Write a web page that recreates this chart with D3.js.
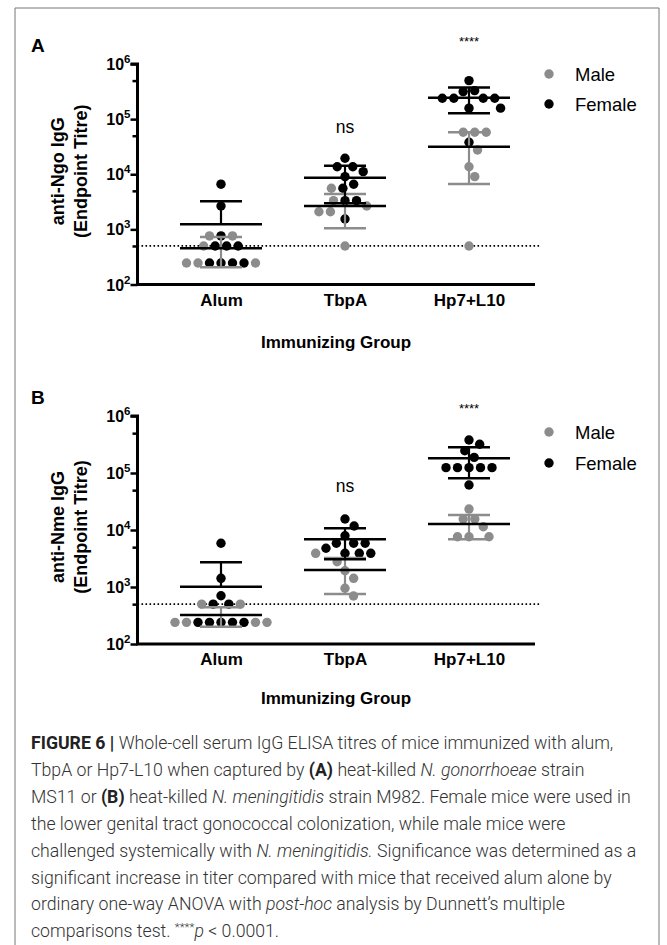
<!DOCTYPE html>
<html><head><meta charset="utf-8">
<script src="https://cdn.jsdelivr.net/npm/d3@7"></script>
<style>body{margin:0;background:#fff}svg{display:block}</style>
</head><body>
<script>
// ---------------- data ----------------
const groups = ["Alum", "TbpA", "Hp7+L10"];
const panelLabels = ["A", "B"];
const yTitles = [["anti-Ngo IgG", "(Endpoint Titre)"], ["anti-Nme IgG", "(Endpoint Titre)"]];
const xTitle = "Immunizing Group";
const sigLabels = ["", "ns", "****"];
const seriesNames = ["Male", "Female"];
const tickValues = [100, 1000, 10000, 100000, 1000000];
const minorTickValues = [500, 5000, 50000, 500000];
const limitOfDetection = 500;

// Panel A (anti-Ngo)
const aFemale = [
  [6600, 2660, 760, 500, 500, 500, 245, 245, 245, 245],
  [19500, 13700, 13700, 11150, 9040, 6590, 5570, 3320, 3320, 1545],
  [500000, 329000, 316000, 239000, 239000, 239000, 239000, 158000, 158000, 38100]
];
const aMale = [
  [760, 760, 500, 245, 245, 245],
  [5570, 3320, 2660, 2090, 2090, 500],
  [57800, 57800, 57800, 27600, 13700, 9040, 500]
];
const aFemaleMean = [1240, 8670, 245000];
const aFemaleSdHigh = [3240, 14300, 373000];
const aFemaleSdLow = [null, 2980, 128000];
const aMaleMean = [454, 2660, 31700];
const aMaleSdHigh = [728, 4390, 57800];
const aMaleSdLow = [205, 1047, 6670];

// Panel B (anti-Nme)
const bFemale = [
  [5850, 1420, 703, 500, 500, 240, 240, 240, 240, 240],
  [15600, 11750, 7940, 5850, 5850, 5850, 4780, 3900, 3900, 3900],
  [379000, 319000, 246000, 188000, 124000, 124000, 124000, 124000, 124000, 61500]
];
const bMale = [
  [500, 500, 240, 240, 240, 240],
  [3900, 2780, 1930, 1420, 950, 695],
  [23300, 15600, 15600, 11400, 7620, 7620, 7620]
];
const bFemaleMean = [1010, 6870, 181000];
const bFemaleSdHigh = [2710, 10720, 282000];
const bFemaleSdLow = [null, 3060, 80700];
const bMaleMean = [323, 1986, 12700];
const bMaleSdHigh = [440, 3220, 18300];
const bMaleSdLow = [201, 753, 6870];

const captionLines = [
  [["b","FIGURE 6 | "],["n","Whole-cell serum IgG ELISA titres of mice immunized with alum,"]],
  [["n","TbpA or Hp7-L10 when captured by "],["b","(A)"],["n"," heat-killed "],["i","N. gonorrhoeae"],["n"," strain"]],
  [["n","MS11 or "],["b","(B)"],["n"," heat-killed "],["i","N. meningitidis"],["n"," strain M982. Female mice were used in"]],
  [["n","the lower genital tract gonococcal colonization, while male mice were"]],
  [["n","challenged systemically with "],["i","N. meningitidis."],["n"," Significance was determined as a"]],
  [["n","significant increase in titer compared with mice that received alum alone by"]],
  [["n","ordinary one-way ANOVA with "],["i","post-hoc"],["n"," analysis by Dunnett\u2019s multiple"]],
  [["n","comparisons test. "],["s","****"],["p","p"],["n"," < 0.0001."]]
];

// ---------------- drawing ----------------
const W = 667, H = 945;
const BLACK = "#000", GRAY = "#8c8c8c";
const svg = d3.select("body").append("svg").attr("width", W).attr("height", H);
svg.append("rect").attr("width", W).attr("height", H).attr("fill", "#fff");
svg.append("path").attr("d", "M15,950V8H659V950").attr("fill", "none").attr("stroke", "#777").attr("stroke-width", 1);

const FONT = "'Liberation Sans', Arial, sans-serif";

const panels = [
  {label: panelLabels[0], title: yTitles[0], top: 64, bottom: 284.5, female: aFemale, male: aMale,
   fMean: aFemaleMean, fHi: aFemaleSdHigh, fLo: aFemaleSdLow, mMean: aMaleMean, mHi: aMaleSdHigh, mLo: aMaleSdLow,
   labelY: 52, xTitleY: 348, sigY: [0, 133, 46], legY: [74, 104]},
  {label: panelLabels[1], title: yTitles[1], top: 416, bottom: 644, female: bFemale, male: bMale,
   fMean: bFemaleMean, fHi: bFemaleSdHigh, fLo: bFemaleSdLow, mMean: bMaleMean, mHi: bMaleSdHigh, mLo: bMaleSdLow,
   labelY: 404, xTitleY: 704, sigY: [0, 492, 413], legY: [432, 463]}
];

const axisX = 137.5, axisRight = 535, lodRight = 540;
const x = d3.scalePoint().domain(groups).range([221, 469]);
const R = 4.7, D = 11.5;

function swarm(pts) {
  const placed = [];
  pts.forEach(p => {
    const cands = [0];
    placed.forEach(q => {
      const dy = Math.abs(q.y - p.y);
      if (dy < D) { const w = Math.sqrt(D * D - dy * dy); cands.push(q.dx + w, q.dx - w); }
    });
    cands.sort((a, b) => Math.abs(a) - Math.abs(b) || b - a);
    for (const c of cands) {
      if (placed.every(q => (q.dx - c) ** 2 + (q.y - p.y) ** 2 >= D * D - 0.01)) { p.dx = c; break; }
    }
    placed.push(p);
  });
  return placed;
}

panels.forEach(P => {
  const g = svg.append("g");
  const y = d3.scaleLog().domain([100, 1000000]).range([P.bottom, P.top]);

  // panel letter
  g.append("text").attr("x", 31).attr("y", P.labelY).text(P.label)
    .attr("font-family", FONT).attr("font-weight", "bold").attr("font-size", 19);

  // y title
  const tcy = (P.top + P.bottom) / 2 - 3;
  P.title.forEach((t, i) => {
    g.append("text").attr("transform", `translate(${64 + i * 23},${tcy}) rotate(-90)`)
      .attr("text-anchor", "middle").attr("font-family", FONT).attr("font-weight", "bold")
      .attr("font-size", 18).text(t);
  });

  // limit of detection dotted line
  g.append("line").attr("x1", axisX).attr("x2", lodRight).attr("y1", y(limitOfDetection)).attr("y2", y(limitOfDetection))
    .attr("stroke", BLACK).attr("stroke-width", 1.8).attr("stroke-dasharray", "1.6,2.4");

  // y axis
  const yAxis = d3.axisLeft(y).tickValues(tickValues).tickSize(7).tickFormat("");
  const ya = g.append("g").attr("transform", `translate(${axisX},0)`).call(yAxis);
  ya.select(".domain").attr("stroke-width", 3).attr("d", `M-7,${P.top}H0V${P.bottom}`);
  ya.selectAll(".tick line").attr("stroke-width", 2.5);
  const yMinor = d3.axisLeft(y).tickValues(minorTickValues).tickSize(5).tickFormat("");
  const ym = g.append("g").attr("transform", `translate(${axisX},0)`).call(yMinor);
  ym.select(".domain").remove();
  ym.selectAll(".tick line").attr("stroke-width", 2.5);
  // tick labels 10^n
  tickValues.forEach(v => {
    const t = g.append("text").attr("x", axisX - 7).attr("y", y(v) + 6).attr("text-anchor", "end")
      .attr("font-family", FONT).attr("font-weight", "bold").attr("font-size", 16);
    t.append("tspan").text("10");
    t.append("tspan").attr("dy", -7).attr("font-size", 11.5).text(String(Math.round(Math.log10(v))));
  });

  // x axis
  const xa = g.append("g").attr("transform", `translate(0,${P.bottom})`)
    .call(d3.axisBottom(x).tickSize(0).tickPadding(9));
  xa.select(".domain").attr("d", `M${axisX - 1.5},0H${axisRight}`).attr("stroke-width", 3);
  xa.selectAll(".tick text").attr("font-family", FONT).attr("font-weight", "bold").attr("font-size", 17)
    .attr("fill", BLACK);

  g.append("text").attr("x", 336).attr("y", P.xTitleY).attr("text-anchor", "middle")
    .attr("font-family", FONT).attr("font-weight", "bold").attr("font-size", 17).text(xTitle);

  // significance
  sigLabels.forEach((s, i) => {
    if (!s) return;
    g.append("text").attr("x", x(groups[i])).attr("y", P.sigY[i]).attr("text-anchor", "middle")
      .attr("font-family", FONT).attr("font-size", s === "ns" ? 17.5 : 13).text(s);
  });

  // points
  groups.forEach((grp, gi) => {
    const pts = [];
    P.female[gi].forEach(v => pts.push({v, y: y(v), sex: "F"}));
    P.male[gi].forEach(v => pts.push({v, y: y(v), sex: "M"}));
    swarm(pts);
    g.selectAll(null).data(pts).join("circle")
      .attr("cx", d => x(grp) + d.dx).attr("cy", d => d.y).attr("r", R)
      .attr("fill", d => d.sex === "F" ? BLACK : GRAY);
  });

  // error bars (SD) and means
  function bars(mean, hi, lo, col) {
    groups.forEach((grp, gi) => {
      const cx = x(grp);
      const yHi = y(hi[gi]);
      const yLo = lo[gi] == null ? null : y(lo[gi]);
      const yM = y(mean[gi]);
      g.append("line").attr("x1", cx).attr("x2", cx).attr("y1", yHi).attr("y2", yLo == null ? yM : yLo)
        .attr("stroke", col).attr("stroke-width", 2.2);
      g.append("line").attr("x1", cx - 21).attr("x2", cx + 21).attr("y1", yHi).attr("y2", yHi)
        .attr("stroke", col).attr("stroke-width", 2.5);
      if (yLo != null) g.append("line").attr("x1", cx - 21).attr("x2", cx + 21).attr("y1", yLo).attr("y2", yLo)
        .attr("stroke", col).attr("stroke-width", 2.5);
      g.append("line").attr("x1", cx - 41).attr("x2", cx + 41).attr("y1", yM).attr("y2", yM)
        .attr("stroke", BLACK).attr("stroke-width", 2.5);
    });
  }
  bars(P.mMean, P.mHi, P.mLo, GRAY);
  bars(P.fMean, P.fHi, P.fLo, BLACK);

  // legend
  seriesNames.forEach((n, i) => {
    g.append("circle").attr("cx", 549).attr("cy", P.legY[i]).attr("r", R).attr("fill", i === 0 ? GRAY : BLACK);
    g.append("text").attr("x", 575).attr("y", P.legY[i] + 6.5).attr("font-family", FONT).attr("font-size", 18.5).text(n);
  });
});

// caption
const cap = svg.append("g");
const capFont = "Roboto, 'Open Sans', sans-serif";
captionLines.forEach((line, i) => {
  const t = cap.append("text").attr("x", 31).attr("y", 749 + i * 26.9).attr("font-family", capFont)
    .attr("font-size", 17.7).attr("fill", "#333").attr("font-weight", 300);
  line.forEach(([k, s]) => {
    const ts = t.append("tspan").text(s);
    if (k === "b") ts.attr("font-weight", "bold").attr("fill", "#222");
    if (k === "i") ts.attr("font-style", "italic");
    if (k === "s") ts.attr("font-size", 11.5).attr("dy", -6);
    if (k === "p") ts.attr("font-style", "italic").attr("dy", 6);
  });
});
</script>
</body></html>
